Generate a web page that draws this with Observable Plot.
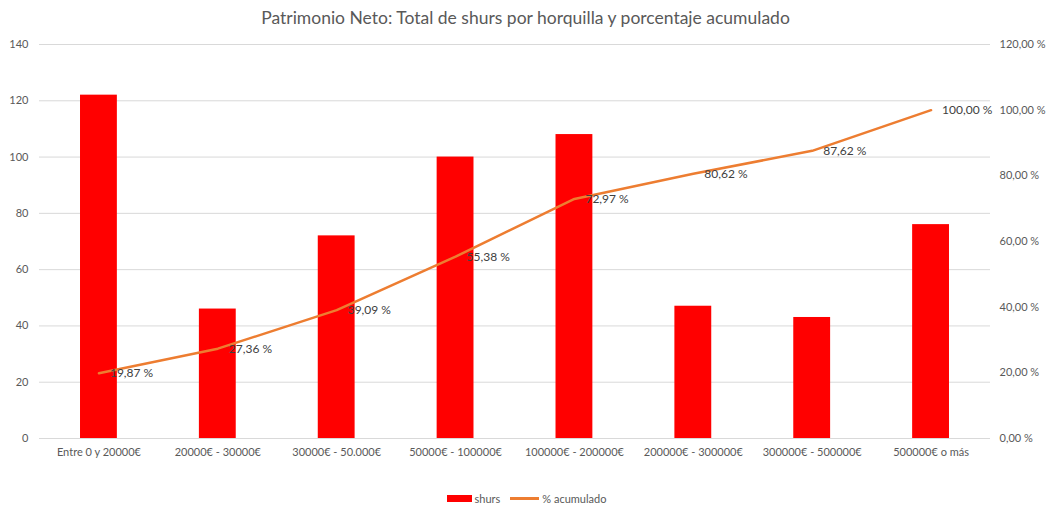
<!DOCTYPE html>
<html>
<head>
<meta charset="utf-8">
<script src="https://cdn.jsdelivr.net/npm/d3@7"></script>
<script src="https://cdn.jsdelivr.net/npm/@observablehq/plot@0.6"></script>
<style>
  html, body { margin: 0; padding: 0; background: #fff; }
  body { width: 1051px; height: 511px; overflow: hidden; font-family: Lato, "Open Sans", sans-serif; color: #595959; }
  #title { height: 36px; line-height: 36px; text-align: center; font-size: 17.5px; color: #595959; }
  #legend { display: flex; justify-content: center; align-items: center; gap: 10px; font-size: 11px; color: #595959; margin-top: 16px; padding-left: 2px; }
  .item { display: flex; align-items: center; gap: 3px; }
  .sw-bar { width: 25px; height: 7px; background: #FF0000; }
  .sw-line { width: 29px; height: 3px; background: #ED7D31; }
</style>
</head>
<body>
<div id="title">Patrimonio Neto: Total de shurs por horquilla y porcentaje acumulado</div>
<div id="chart"></div>
<div id="legend">
  <div class="item"><div class="sw-bar"></div><span>shurs</span></div>
  <div class="item"><div class="sw-line"></div><span>% acumulado</span></div>
</div>
<script>
const categories = ["Entre 0 y 20000€", "20000€ - 30000€", "30000€ - 50.000€", "50000€ - 100000€", "100000€ - 200000€", "200000€ - 300000€", "300000€ - 500000€", "500000€ o más"];
const shurs = [122, 46, 72, 100, 108, 47, 43, 76];
const acumulado = [19.87, 27.36, 39.09, 55.38, 72.97, 80.62, 87.62, 100.00];
const leftTicks = [0, 20, 40, 60, 80, 100, 120, 140];
const rightTicks = [0, 20, 40, 60, 80, 100, 120];
const leftMax = 140, rightMax = 120;

const k = leftMax / rightMax;
const bars = categories.map((c, i) => ({c, v: shurs[i]}));
const pts = categories.map((c, i) => ({c, p: acumulado[i], y: acumulado[i] * k}));
const fmt = p => p.toFixed(2).replace(".", ",") + " %";

const chart = Plot.plot({
  width: 1051,
  height: 440,
  marginLeft: 39,
  marginRight: 61,
  marginTop: 8,
  marginBottom: 38,
  style: {fontFamily: "Lato, 'Open Sans', sans-serif", fontSize: "11px", color: "#595959", background: "#fff"},
  x: {domain: categories, paddingInner: 0.69, paddingOuter: 0.345, round: false, label: null},
  y: {domain: [0, leftMax], label: null},
  marks: [
    Plot.gridY(leftTicks, {stroke: "#D9D9D9", strokeOpacity: 1, strokeWidth: 1}),
    Plot.axisY(leftTicks, {anchor: "left", tickSize: 0, tickPadding: 11, label: null, fill: "#595959", fontSize: 11}),
    Plot.axisY(rightTicks.map(t => t * k), {anchor: "right", tickSize: 0, tickPadding: 9, label: null, tickFormat: d => fmt(d / k), textAnchor: "start", fill: "#595959", fontSize: 11}),
    Plot.axisX({tickSize: 0, tickPadding: 10, label: null, fill: "#595959", fontSize: 11}),
    Plot.barY(bars, {x: "c", y: "v", fill: "#FF0000"}),
    Plot.line(pts, {x: "c", y: "y", stroke: "#ED7D31", strokeWidth: 2.5, strokeLinejoin: "round", strokeLinecap: "round"}),
    Plot.text(pts, {x: "c", y: "y", text: d => fmt(d.p), textAnchor: "start", dx: 11, fill: "#404040", fontSize: 12})
  ]
});
document.getElementById("chart").appendChild(chart);
</script>
</body>
</html>
